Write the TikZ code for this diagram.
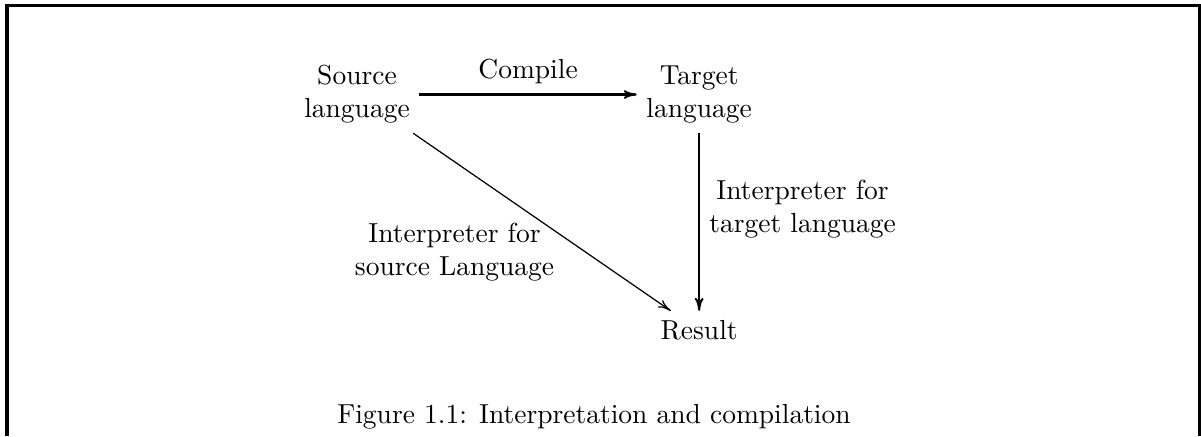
\documentclass[tikz,border=0pt]{standalone}
\usetikzlibrary{arrows.meta,positioning}

\begin{document}
\begin{tikzpicture}[
    x=0.3636pt,y=-0.3636pt,
    lang/.style={align=center},
    arrow/.style={-{To[length=4.7pt,width=3.2pt]},line width=0.75pt},
    thinarrow/.style={arrow,line width=0.45pt}
  ]
    \useasboundingbox (0,0) rectangle (1201,436);
    \draw[line width=1.1pt] (7,436) -- (7,5.5) -- (1199.5,5.5) -- (1199.5,436);
    \node[lang] (src) at (357,94.5) {Source\\language};
    \node[lang,right=79pt of src] (tgt) {Target\\language};
    \node[below=64.7pt of tgt] (res) {Result};
    \node[anchor=base] (figcap) at (594,423) {Figure 1.1: Interpretation and compilation};
    \draw[arrow] (src) -- node[above] {Compile} (tgt);
    \draw[arrow] (tgt) -- node[right,pos=0.43,align=center] {Interpreter for\\target language} (res);
    \draw[thinarrow] (src) -- node[midway,anchor=north east,xshift=8pt,yshift=3pt,align=center] {Interpreter for\\source Language} (res);
\end{tikzpicture}
\end{document}
